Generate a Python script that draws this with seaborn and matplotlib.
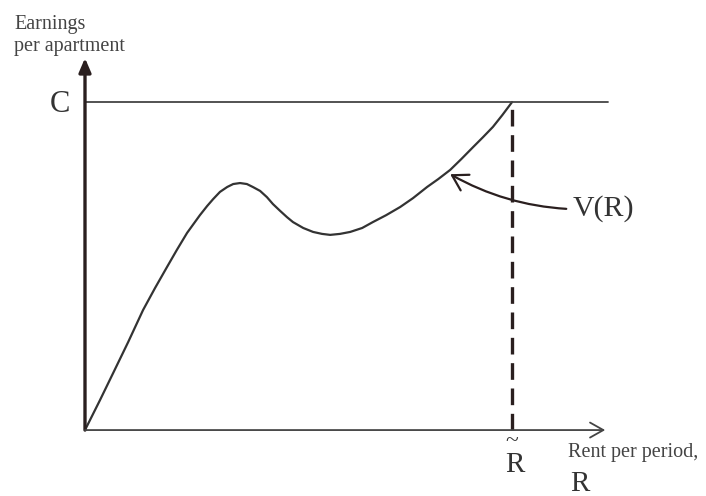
"""Schematic: earnings per apartment V(R) against rent per period R."""

import matplotlib
matplotlib.use("Agg")
import matplotlib.pyplot as plt
import seaborn as sns
import pandas as pd

# Data (R in units of R-tilde, V in units of C)
rent = [0.0, 0.035, 0.066, 0.101, 0.136, 0.164, 0.192, 0.215, 0.239, 0.269,
        0.286, 0.300, 0.316, 0.333, 0.347, 0.363, 0.379, 0.393, 0.410, 0.426,
        0.440, 0.457, 0.473, 0.487, 0.511, 0.534, 0.555, 0.574, 0.597, 0.621,
        0.649, 0.674, 0.705, 0.738, 0.768, 0.801, 0.827, 0.855, 0.881, 0.909,
        0.932, 0.955, 0.977, 1.0]
earnings = [0.0, 0.091, 0.174, 0.268, 0.366, 0.433, 0.497, 0.549, 0.601, 0.655,
            0.683, 0.704, 0.726, 0.741, 0.750, 0.753, 0.750, 0.741, 0.729, 0.710,
            0.689, 0.668, 0.649, 0.634, 0.616, 0.604, 0.598, 0.595, 0.598, 0.604,
            0.616, 0.634, 0.655, 0.680, 0.707, 0.741, 0.765, 0.793, 0.826, 0.863,
            0.893, 0.924, 0.960, 1.0]
cap_level = 1.0      # C
r_tilde = 1.0        # R~

ink = "#2a1f1f"
line_col = "#333333"

sns.set_theme(style="white")
plt.rcParams["font.family"] = ["Liberation Serif", "DejaVu Serif"]

df = pd.DataFrame({"R": rent, "V": earnings})

fig = plt.figure(figsize=(7.06, 4.96), dpi=100)
ax = fig.add_axes([0, 0, 1, 1])
ax.set_xlim(-0.199, 1.454)
ax.set_ylim(-0.201, 1.311)
ax.axis("off")

sns.lineplot(data=df, x="R", y="V", sort=False, color=line_col, lw=1.6, ax=ax)

# C level and the dashed R~ line
ax.plot([0, 1.225], [cap_level, cap_level], color="#444444", lw=1.3)
ax.plot([r_tilde, r_tilde], [0, cap_level], color=ink, lw=2.4,
        dashes=(5, 2.6))

# axes with arrows
ax.annotate("", xy=(0, 1.134), xytext=(0, 0),
            arrowprops=dict(arrowstyle="-|>,head_length=0.7,head_width=0.3",
                            color=ink, lw=2.4, shrinkA=0, shrinkB=0))
ax.annotate("", xy=(1.218, 0), xytext=(0, 0),
            arrowprops=dict(arrowstyle="->,head_length=0.8,head_width=0.45",
                            color="#444444", lw=1.3, shrinkA=0, shrinkB=0))

# labels
ax.text(-0.166, 1.266, "Earnings\nper apartment", fontsize=14.5, color="#444444",
        ha="left", va="top", linespacing=1.25)
ax.text(-0.059, cap_level - 0.009, "C", fontsize=22, color="#333333",
        ha="center", va="center")
ax.text(0.998, -0.034, "~", fontsize=17, color="#333333", ha="center", va="center")
ax.text(1.007, -0.108, "R", fontsize=21, color="#333333", ha="center", va="center")
ax.text(1.131, -0.067, "Rent per period,", fontsize=14.5, color="#444444",
        ha="left", va="center")
ax.text(1.136, -0.163, "R", fontsize=21, color="#333333", ha="left", va="center")

ax.annotate("V(R)", xy=(0.855, 0.78), xytext=(1.141, 0.675),
            fontsize=21.5, color="#333333", va="center", ha="left",
            arrowprops=dict(arrowstyle="->,head_length=0.5,head_width=0.3",
                            color=ink, lw=1.6, shrinkA=2, shrinkB=0,
                            connectionstyle="arc3,rad=-0.15"))

fig.savefig("out.png", dpi=100, facecolor="white")
plt.close(fig)
